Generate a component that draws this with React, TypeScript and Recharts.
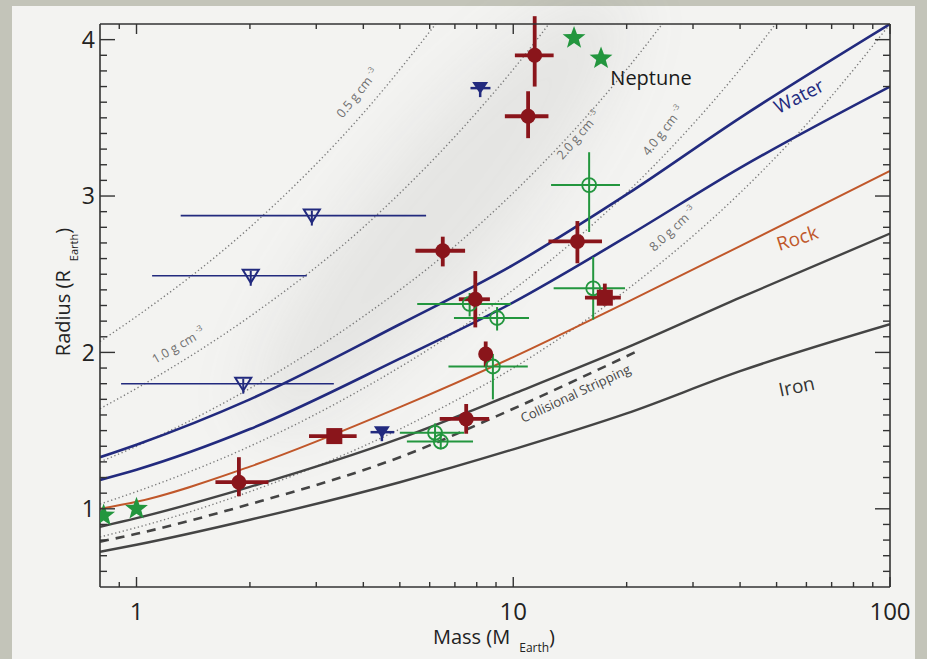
import React from "react";
import { ComposedChart, Line, Scatter, XAxis, YAxis, ErrorBar, ReferenceDot, Label } from "recharts";

// axis ticks
const massTicks = [0.9, 1, 2, 3, 4, 5, 6, 7, 8, 9, 10, 20, 30, 40, 50, 60, 70, 80, 90, 100];
const massLabels = [1, 10, 100];
const radiusTicks = [
  0.6, 0.7, 0.8, 0.9, 1, 1.1, 1.2, 1.3, 1.4, 1.5, 1.6, 1.7, 1.8, 1.9, 2, 2.1, 2.2, 2.3, 2.4, 2.5, 2.6, 2.7,
  2.8, 2.9, 3, 3.1, 3.2, 3.3, 3.4, 3.5, 3.6, 3.7, 3.8, 3.9, 4,
];
const radiusLabels = [1, 2, 3, 4];

// composition models (radius read at each mass)
const modelMass = [0.8, 1, 2, 5, 10, 20, 40, 100];
const waterPure = [1.33, 1.41, 1.7, 2.18, 2.56, 3.01, 3.5, 4.1];
const waterHalf = [1.185, 1.25, 1.51, 1.96, 2.32, 2.74, 3.18, 3.7];
const rock = [1.0, 1.045, 1.27, 1.65, 1.97, 2.32, 2.68, 3.16];
const earthLike = [0.885, 0.94, 1.14, 1.45, 1.735, 2.03, 2.35, 2.76];
const iron = [0.725, 0.77, 0.93, 1.17, 1.38, 1.61, 1.88, 2.18];
const strippingMass = [0.8, 1, 2, 5, 10, 21];
const stripping = [0.79, 0.84, 1.03, 1.33, 1.64, 2.0];

// constant density curves
const densityMass = [0.8, 1, 2, 4, 7, 10, 20, 40, 70, 100];
const rho05 = [2.07, 2.23, 2.8, 3.53, 4.26];
const rho10 = [1.64, 1.77, 2.23, 2.8, 3.38, 3.81, 4.79];
const rho20 = [1.3, 1.4, 1.77, 2.23, 2.68, 3.02, 3.81, 4.79];
const rho40 = [1.03, 1.11, 1.4, 1.77, 2.13, 2.4, 3.02, 3.81, 4.59];
const rho80 = [0.82, 0.88, 1.11, 1.4, 1.69, 1.9, 2.4, 3.02, 3.64, 4.1];

// measured planets: [minus, plus] errors
const rvMass = [1.87, 6.5, 7.93, 11.4, 10.95, 14.8, 8.45, 7.5];
const rvRadius = [1.17, 2.65, 2.34, 3.9, 3.51, 2.71, 1.99, 1.575];
const rvMassErr = [[0.25, 0.37], [1.0, 0.95], [0.76, 0.74], [1.3, 1.4], [1.45, 1.45], [2.4, 2.4], [0.3, 0.3], [1.12, 1.13]];
const rvRadiusErr = [[0.09, 0.16], [0.1, 0.09], [0.18, 0.18], [0.2, 0.25], [0.14, 0.16], [0.14, 0.13], [0.08, 0.08], [0.095, 0.095]];

const sqMass = [3.35, 17.5];
const sqRadius = [1.465, 2.35];
const sqMassErr = [[0.48, 0.49], [2.0, 1.8]];
const sqRadiusErr = [[0.0, 0.0], [0.05, 0.09]];

const ttvMass = [15.9, 16.3, 7.66, 9.06, 8.83, 6.2, 6.42];
const ttvRadius = [3.07, 2.41, 2.31, 2.22, 1.91, 1.486, 1.43];
const ttvMassErr = [[3.3, 3.3], [3.5, 3.5], [2.1, 2.2], [2.1, 1.95], [2.1, 2.1], [1.2, 1.2], [1.2, 1.4]];
const ttvRadiusErr = [[0.3, 0.21], [0.2, 0.2], [0.08, 0.07], [0.08, 0.07], [0.21, 0.08], [0.06, 0.06], [0.05, 0.06]];

const limitMass = [8.17, 4.48];
const limitRadius = [3.69, 1.49];
const limitMassErr = [[0.47, 0.53], [0.3, 0.35]];

const openLimitMass = [2.92, 2.01, 1.92];
const openLimitRadius = [2.875, 2.49, 1.8];
const openLimitMassErr = [[1.61, 2.95], [0.91, 0.82], [1.01, 1.42]];

const solarMass = [0.818, 1.0, 14.5, 17.1];
const solarRadius = [0.957, 1.0, 4.01, 3.88];

const red = "#8a151b";
const navy = "#222a7e";
const green = "#23963e";
const orange = "#c0572a";
const gray = "#444444";
const dotGray = "#7a7a7a";
const ink = "#333333";
const font = "'Open Sans', 'Noto Sans', sans-serif";

const zip = (ms: number[], rs: number[]) => rs.map((r, i) => ({ m: ms[i], r }));
const withErr = (ms: number[], rs: number[], ex: number[][], ey?: number[][]) =>
  ms.map((m, i) => ({ m, r: rs[i], ex: ex[i], ey: ey ? ey[i] : [0, 0] }));

const rvRows = withErr(rvMass, rvRadius, rvMassErr, rvRadiusErr);
const sqRows = withErr(sqMass, sqRadius, sqMassErr, sqRadiusErr);
const ttvRows = withErr(ttvMass, ttvRadius, ttvMassErr, ttvRadiusErr);
const limitRows = withErr(limitMass, limitRadius, limitMassErr);
const openLimitRows = withErr(openLimitMass, openLimitRadius, openLimitMassErr);
const solarRows = zip(solarMass, solarRadius);

const annotations = [
  { m: 18.1, r: 3.71, text: "Neptune", angle: 0, color: "#1a1a1a", size: 20, anchor: "start" },
  { m: 58.4, r: 3.6, text: "Water", angle: -27, color: navy, size: 19, anchor: "middle" },
  { m: 57.5, r: 2.69, text: "Rock", angle: -18, color: orange, size: 19, anchor: "middle" },
  { m: 57.0, r: 1.74, text: "Iron", angle: -12, color: "#333", size: 19, anchor: "middle" },
  { m: 14.8, r: 1.71, text: "Collisional Stripping", angle: -25, color: "#444", size: 13, anchor: "middle" },
];
const densityLabels = [
  { m: 3.94, r: 3.64, text: "0.5 g cm", angle: -51 },
  { m: 1.31, r: 2.02, text: "1.0 g cm", angle: -30 },
  { m: 15.2, r: 3.37, text: "2.0 g cm", angle: -49 },
  { m: 25.5, r: 3.4, text: "4.0 g cm", angle: -52 },
  { m: 27.0, r: 2.77, text: "8.0 g cm", angle: -43 },
];

function BottomTick({ x, y, payload }: any) {
  const v = payload.value;
  const major = massLabels.includes(v);
  return (
    <g>
      <line x1={x} x2={x} y1={y} y2={y - (major ? 10 : 5)} stroke={ink} strokeWidth={1.4} />
      {major && (
        <text x={x} y={y + 33} textAnchor="middle" fontSize={24} fill="#222" fontFamily={font}>
          {v}
        </text>
      )}
    </g>
  );
}
function TopTick({ x, y, payload }: any) {
  const major = massLabels.includes(payload.value);
  return <line x1={x} x2={x} y1={y} y2={y + (major ? 10 : 5)} stroke={ink} strokeWidth={1.4} />;
}
function LeftTick({ x, y, payload }: any) {
  const v = payload.value;
  const major = radiusLabels.includes(v);
  return (
    <g>
      <line x1={x} x2={x + (major ? 15 : 7)} y1={y} y2={y} stroke={ink} strokeWidth={1.4} />
      {major && (
        <text x={x - 5} y={y} dy="0.36em" textAnchor="end" fontSize={23} fill="#222" fontFamily={font}>
          {v}
        </text>
      )}
    </g>
  );
}
function RightTick({ x, y, payload }: any) {
  const major = radiusLabels.includes(payload.value);
  return <line x1={x} x2={x - (major ? 15 : 7)} y1={y} y2={y} stroke={ink} strokeWidth={1.4} />;
}

const RedDot = ({ cx, cy }: any) => <circle cx={cx} cy={cy} r={7.5} fill={red} />;
const RedSquare = ({ cx, cy }: any) => <rect x={cx - 8} y={cy - 8} width={16} height={16} fill={red} />;
const OpenCircle = ({ cx, cy }: any) => <circle cx={cx} cy={cy} r={7} fill="none" stroke={green} strokeWidth={1.8} />;
const FilledTri = ({ cx, cy }: any) => (
  <g>
    <path d={`M${cx - 8},${cy - 6} L${cx + 8},${cy - 6} L${cx},${cy + 6} Z`} fill={navy} />
    <line x1={cx} x2={cx} y1={cy} y2={cy + 9} stroke={navy} strokeWidth={2.5} />
  </g>
);
const OpenTri = ({ cx, cy }: any) => (
  <g>
    <path d={`M${cx - 8},${cy - 6} L${cx + 8},${cy - 6} L${cx},${cy + 7} Z`} fill="none" stroke={navy} strokeWidth={2} />
    <line x1={cx} x2={cx} y1={cy - 5} y2={cy + 10} stroke={navy} strokeWidth={2} />
  </g>
);
const Star = ({ cx, cy }: any) => {
  const pts: string[] = [];
  for (let i = 0; i < 10; i++) {
    const a = -Math.PI / 2 + (i * Math.PI) / 5;
    const rad = i % 2 === 0 ? 12 : 5;
    pts.push(`${cx + rad * Math.cos(a)},${cy + rad * Math.sin(a)}`);
  }
  return <polygon points={pts.join(" ")} fill={green} />;
};

const noAnim = { isAnimationActive: false };

export default function App() {
  return (
    <div style={{ position: "absolute", left: 0, top: 0, width: 927, height: 659, background: "#c3c4b9", overflow: "hidden" }}>
      <div style={{ position: "absolute", left: 12, top: 6, width: 903, height: 653, background: "#f3f3f1" }} />
      <div
        style={{
          position: "absolute",
          left: 370,
          top: -70,
          width: 140,
          height: 560,
          background: "rgba(110,110,110,0.1)",
          filter: "blur(30px)",
          borderRadius: "50%",
          transform: "rotate(40deg)",
        }}
      />
      <div style={{ position: "absolute", left: 0, top: 0 }}>
        <ComposedChart width={927} height={659} margin={{ top: 22, right: 35, bottom: 32, left: 40 }}>
          <XAxis
            xAxisId={0}
            dataKey="m"
            type="number"
            scale="log"
            domain={[0.8, 100]}
            allowDataOverflow
            ticks={massTicks}
            interval={0}
            height={40}
            tickSize={0}
            tickMargin={0}
            tickLine={false}
            tick={<BottomTick />}
            axisLine={{ stroke: ink, strokeWidth: 1.6 }}
          >
            <Label
              content={() => (
                <text x={494} y={644} textAnchor="middle" fontSize={20} fill="#222" fontFamily={font}>
                  Mass (M
                  <tspan dx={9} dy={8} fontSize={12}>
                    Earth
                  </tspan>
                  <tspan dy={-8} fontSize={20}>
                    )
                  </tspan>
                </text>
              )}
            />
          </XAxis>
          <XAxis
            xAxisId="top"
            orientation="top"
            dataKey="m"
            type="number"
            scale="log"
            domain={[0.8, 100]}
            allowDataOverflow
            ticks={massTicks}
            interval={0}
            height={2}
            tickSize={0}
            tickMargin={0}
            tickLine={false}
            tick={<TopTick />}
            axisLine={{ stroke: ink, strokeWidth: 1.6 }}
          />
          <YAxis
            yAxisId={0}
            dataKey="r"
            type="number"
            domain={[0.5, 4.1]}
            allowDataOverflow
            ticks={radiusTicks}
            interval={0}
            width={60}
            tickSize={0}
            tickMargin={0}
            tickLine={false}
            tick={<LeftTick />}
            axisLine={{ stroke: ink, strokeWidth: 1.6 }}
          >
            <Label
              content={() => (
                <text transform="translate(70,292) rotate(-90)" textAnchor="middle" fontSize={20} fill="#222" fontFamily={font}>
                  Radius (R
                  <tspan dx={9} dy={8} fontSize={11}>
                    Earth
                  </tspan>
                  <tspan dy={-8} fontSize={20}>
                    )
                  </tspan>
                </text>
              )}
            />
          </YAxis>
          <YAxis
            yAxisId="right"
            orientation="right"
            type="number"
            domain={[0.5, 4.1]}
            allowDataOverflow
            ticks={radiusTicks}
            interval={0}
            width={2}
            tickSize={0}
            tickMargin={0}
            tickLine={false}
            tick={<RightTick />}
            axisLine={{ stroke: ink, strokeWidth: 1.6 }}
          />

          {[rho05, rho10, rho20, rho40, rho80].map((rs, i) => (
            <Line
              key={"rho" + i}
              data={zip(densityMass, rs)}
              dataKey="r"
              type="monotone"
              stroke={dotGray}
              strokeWidth={1.4}
              strokeDasharray="1.3 2.6"
              dot={false}
              {...noAnim}
            />
          ))}
          <Line data={zip(modelMass, waterPure)} dataKey="r" type="monotone" stroke={navy} strokeWidth={2.6} dot={false} {...noAnim} />
          <Line data={zip(modelMass, waterHalf)} dataKey="r" type="monotone" stroke={navy} strokeWidth={2.6} dot={false} {...noAnim} />
          <Line data={zip(modelMass, rock)} dataKey="r" type="monotone" stroke={orange} strokeWidth={2} dot={false} {...noAnim} />
          <Line data={zip(modelMass, earthLike)} dataKey="r" type="monotone" stroke={gray} strokeWidth={2.4} dot={false} {...noAnim} />
          <Line
            data={zip(strippingMass, stripping)}
            dataKey="r"
            type="monotone"
            stroke={gray}
            strokeWidth={2.6}
            strokeDasharray="9 7"
            dot={false}
            {...noAnim}
          />
          <Line data={zip(modelMass, iron)} dataKey="r" type="monotone" stroke={gray} strokeWidth={2.4} dot={false} {...noAnim} />

          {densityLabels.map((d) => (
            <ReferenceDot
              key={d.text}
              x={d.m}
              y={d.r}
              r={0}
              shape={({ cx, cy }: any) => (
                <text
                  transform={`translate(${cx},${cy}) rotate(${d.angle})`}
                  textAnchor="middle"
                  fontSize={12.5}
                  fill="#6f6f6f"
                  fontFamily={font}
                >
                  {d.text}
                  <tspan dx={3} dy={-6} fontSize={8}>
                    -3
                  </tspan>
                </text>
              )}
            />
          ))}
          {annotations.map((a) => (
            <ReferenceDot
              key={a.text}
              x={a.m}
              y={a.r}
              r={0}
              shape={({ cx, cy }: any) => (
                <text
                  transform={`translate(${cx},${cy}) rotate(${a.angle})`}
                  textAnchor={a.anchor as any}
                  fontSize={a.size}
                  fill={a.color}
                  fontFamily={font}
                >
                  {a.text}
                </text>
              )}
            />
          ))}

          <Scatter data={openLimitRows} dataKey="r" shape={<OpenTri />} {...noAnim}>
            <ErrorBar dataKey="ex" direction="x" width={0} stroke={navy} strokeWidth={1.6} />
          </Scatter>
          <Scatter data={ttvRows} dataKey="r" shape={<OpenCircle />} {...noAnim}>
            <ErrorBar dataKey="ex" direction="x" width={0} stroke={green} strokeWidth={2} />
            <ErrorBar dataKey="ey" direction="y" width={0} stroke={green} strokeWidth={2} />
          </Scatter>
          <Scatter data={limitRows} dataKey="r" shape={<FilledTri />} {...noAnim}>
            <ErrorBar dataKey="ex" direction="x" width={0} stroke={navy} strokeWidth={2.5} />
          </Scatter>
          <Scatter data={rvRows} dataKey="r" shape={<RedDot />} {...noAnim}>
            <ErrorBar dataKey="ex" direction="x" width={0} stroke={red} strokeWidth={3.8} />
            <ErrorBar dataKey="ey" direction="y" width={0} stroke={red} strokeWidth={3.8} />
          </Scatter>
          <Scatter data={sqRows} dataKey="r" shape={<RedSquare />} {...noAnim}>
            <ErrorBar dataKey="ex" direction="x" width={0} stroke={red} strokeWidth={3.8} />
            <ErrorBar dataKey="ey" direction="y" width={0} stroke={red} strokeWidth={3.8} />
          </Scatter>
          <Scatter data={solarRows} dataKey="r" shape={<Star />} {...noAnim} />
        </ComposedChart>
      </div>
    </div>
  );
}
